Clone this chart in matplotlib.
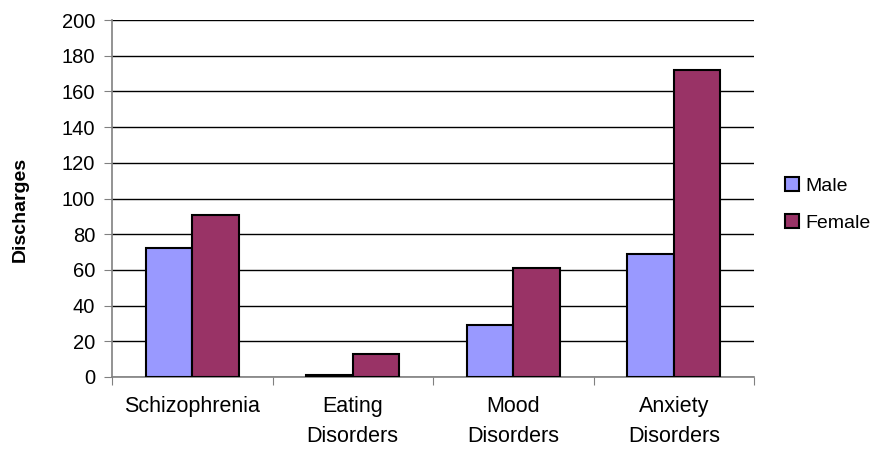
import matplotlib
matplotlib.use("Agg")
import matplotlib.pyplot as plt
import numpy as np

categories = ["Schizophrenia", "Eating\nDisorders", "Mood\nDisorders", "Anxiety\nDisorders"]
male = [72, 1, 29, 69]
female = [91, 13, 61, 172]
y_ticks = list(range(0, 201, 20))

plt.rcParams['font.family'] = ['Liberation Sans', 'DejaVu Sans']

fig = plt.figure(figsize=(8.74, 4.49), dpi=100)
ax = fig.add_axes([112 / 874, 1 - 377 / 449, (754 - 112) / 874, (377 - 20) / 449])

x = np.arange(len(categories))
w = 0.29
ax.bar(x - w / 2, male, w, color="#9999ff", edgecolor="black", linewidth=1.5, label="Male", zorder=3)
ax.bar(x + w / 2, female, w, color="#993366", edgecolor="black", linewidth=1.5, label="Female", zorder=3)

ax.set_xlim(-0.5, len(categories) - 0.5)
ax.set_ylim(0, 200)
ax.set_yticks(y_ticks)
ax.yaxis.grid(True, color="black", linewidth=1)
ax.set_axisbelow(True)

# category boundaries carry the tick marks, names sit at the group centres
ax.set_xticks(np.arange(len(categories) + 1) - 0.5)
ax.set_xticklabels([])
ax.set_xticks(x, minor=True)
ax.set_xticklabels(categories, minor=True, fontsize=15.5, linespacing=1.55)
ax.tick_params(axis="x", which="minor", length=0, pad=14)
ax.tick_params(axis="x", which="major", length=6, color="#808080")
ax.tick_params(axis="y", length=6, color="#808080", labelsize=14.5, pad=6)

for side in ("top", "right"):
    ax.spines[side].set_visible(False)
for side in ("left", "bottom"):
    ax.spines[side].set_color("#808080")
    ax.spines[side].set_linewidth(1.2)

ax.set_ylabel("Discharges", fontsize=14, fontweight="bold")
ax.yaxis.set_label_coords(-0.129, 0.47)

ax.legend(loc="center left", bbox_to_anchor=(1.03, 0.483), frameon=False, fontsize=14,
          handlelength=0.7, handleheight=0.7, handletextpad=0.35, labelspacing=1.0,
          borderaxespad=0.2)

fig.savefig("out.png", dpi=100)
